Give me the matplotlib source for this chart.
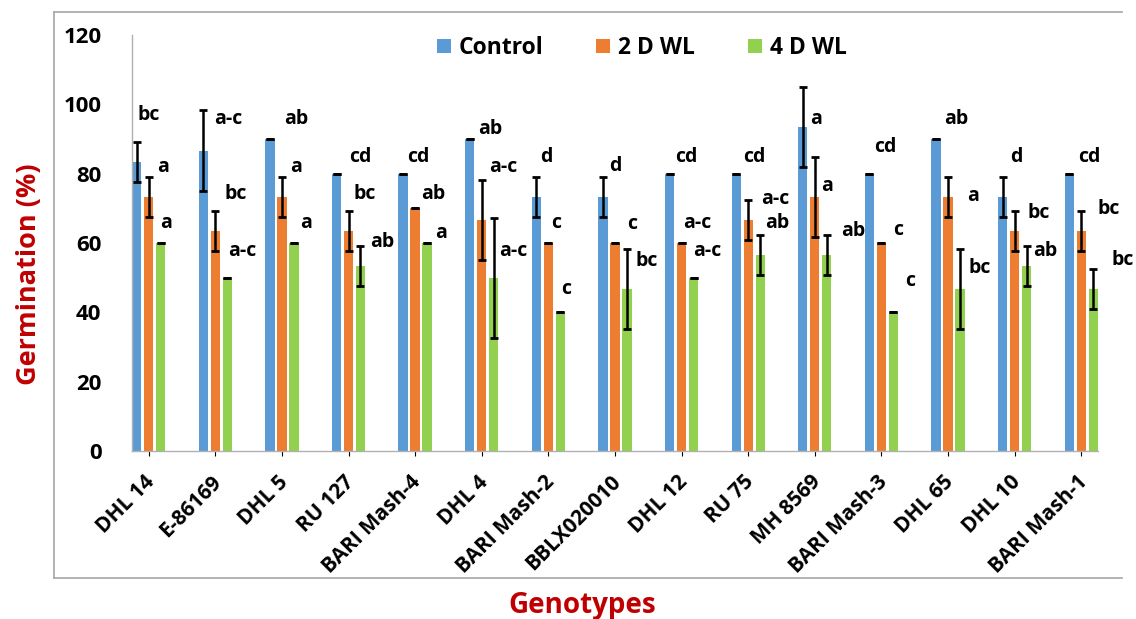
import matplotlib
matplotlib.use("Agg")

import matplotlib.pyplot as plt
import numpy as np
from matplotlib.lines import Line2D

plt.rcParams["font.family"] = ["Open Sans", "DejaVu Sans"]

# data (germination %, mean and SE per genotype)
genotypes = ["DHL 14", "E-86169", "DHL 5", "RU 127", "BARI Mash-4", "DHL 4",
             "BARI Mash-2", "BBLX020010", "DHL 12", "RU 75", "MH 8569",
             "BARI Mash-3", "DHL 65", "DHL 10", "BARI Mash-1"]
series = ["Control", "2 D WL", "4 D WL"]

control = [83.33, 86.67, 90, 80, 80, 90, 73.33, 73.33, 80, 80, 93.33, 80, 90, 73.33, 80]
wl2 = [73.33, 63.33, 73.33, 63.33, 70, 66.67, 60, 60, 60, 66.67, 73.33, 60, 73.33, 63.33, 63.33]
wl4 = [60, 50, 60, 53.33, 60, 50, 40, 46.67, 50, 56.67, 56.67, 40, 46.67, 53.33, 46.67]

se_control = [5.77, 11.55, 0, 0, 0, 0, 5.77, 5.77, 0, 0, 11.55, 0, 0, 5.77, 0]
se_wl2 = [5.77, 5.77, 5.77, 5.77, 0, 11.55, 0, 0, 0, 5.77, 11.55, 0, 5.77, 5.77, 5.77]
se_wl4 = [0, 0, 0, 5.77, 0, 17.32, 0, 11.55, 0, 5.77, 5.77, 0, 11.55, 5.77, 5.77]

let_control = ["bc", "a-c", "ab", "cd", "cd", "ab", "d", "d", "cd", "cd", "a", "cd", "ab", "d", "cd"]
let_wl2 = ["a", "bc", "a", "bc", "ab", "a-c", "c", "c", "a-c", "a-c", "a", "c", "a", "bc", "bc"]
let_wl4 = ["a", "a-c", "a", "ab", "a", "a-c", "c", "bc", "a-c", "ab", "ab", "c", "bc", "ab", "bc"]

# where the significance letters sit (offset from group centre, height)
lab_dx_control = [0.0, 0.19, 0.21, 0.18, 0.05, 0.13, -0.03, 0.0, 0.07, 0.09, 0.02, 0.06, 0.12, 0.03, 0.12]
lab_dx_wl2 = [0.22, 0.31, 0.21, 0.25, 0.27, 0.32, 0.12, 0.26, 0.24, 0.41, 0.19, 0.25, 0.38, 0.36, 0.41]
lab_dx_wl4 = [0.26, 0.40, 0.36, 0.51, 0.39, 0.47, 0.27, 0.47, 0.39, 0.44, 0.58, 0.43, 0.47, 0.46, 0.62]
lab_y_control = [96.9, 95.8, 95.8, 84.8, 84.8, 92.9, 84.8, 82.2, 84.8, 84.8, 95.8, 87.7, 95.8, 84.8, 84.8]
lab_y_wl2 = [81.9, 74.1, 81.9, 74.1, 74.1, 81.9, 65.8, 65.5, 65.8, 72.7, 76.4, 63.7, 73.6, 68.6, 69.8]
lab_y_wl4 = [65.8, 57.7, 65.8, 60.3, 62.9, 57.7, 46.7, 54.8, 57.7, 65.8, 63.5, 49.0, 52.8, 57.7, 55.1]

colors = ["#5B9BD5", "#ED7D31", "#92D050"]
red = "#C00000"

fig = plt.figure(figsize=(11.36, 6.19), dpi=100)
ax = fig.add_axes([0.1162, 0.2714, 0.8503, 0.6721])

x = np.arange(len(genotypes))
step = 0.18
width = 0.14
means = [control, wl2, wl4]
ses = [se_control, se_wl2, se_wl4]
for k, (vals, err, name) in enumerate(zip(means, ses, series)):
    xs = x + (k - 1) * step
    ax.bar(xs, vals, width, color=colors[k], label=name, zorder=2)
    ax.errorbar(xs, vals, yerr=err, fmt="none", ecolor="black", elinewidth=1.8,
                capsize=3, capthick=2, zorder=3)

letters = [let_control, let_wl2, let_wl4]
dxs = [lab_dx_control, lab_dx_wl2, lab_dx_wl4]
lys = [lab_y_control, lab_y_wl2, lab_y_wl4]
for k in range(3):
    for i in range(len(genotypes)):
        ax.text(x[i] + dxs[k][i], lys[k][i], letters[k][i], ha="center", va="center",
                fontsize=14, fontweight="bold", clip_on=False)

ax.set_xlim(-step - width / 2, len(genotypes) - 1 + step + width / 2)
ax.set_ylim(0, 120)
ax.set_yticks(range(0, 121, 20))
ax.tick_params(axis="y", length=0, pad=22, labelsize=16)
ax.set_xticks(x)
ax.set_xticklabels([])
for t in ax.get_yticklabels():
    t.set_fontweight("bold")
# rotated genotype names, right end just below each group
for i, name in enumerate(genotypes):
    ax.annotate(name, xy=(x[i], 0), xycoords=("data", "axes fraction"),
                xytext=(2, -20), textcoords="offset points",
                rotation=45, rotation_mode="anchor", ha="right", va="center",
                fontsize=15, fontweight="bold", annotation_clip=False)
for s in ["top", "right"]:
    ax.spines[s].set_visible(False)
for s in ["left", "bottom"]:
    ax.spines[s].set_color("#B0B0B0")
    ax.spines[s].set_linewidth(1)

leg = ax.legend(loc="upper center", ncol=3, frameon=False, handlelength=0.6, handleheight=0.6,
                handletextpad=0.35, columnspacing=2.3, prop={"size": 16.5, "weight": "bold"})
leg.set_bbox_to_anchor((0.565, 0.975), transform=fig.transFigure)

fig.text(29 / 1136, 1 - 274 / 619, "Germination (%)", rotation=90, ha="center", va="center",
         color=red, fontsize=19.5, fontweight="bold")
fig.text(582 / 1136, 1 - 605 / 619, "Genotypes", ha="center", va="center",
         color=red, fontsize=20, fontweight="bold")

# outer chart frame (left, top, bottom edges)
fx0, fx1, fy0, fy1 = 54 / 1136, 1122 / 1136, 1 - 578 / 619, 1 - 12 / 619
for xs_, ys_ in [([fx0, fx0], [fy0, fy1]), ([fx0, fx1], [fy1, fy1]), ([fx0, fx1], [fy0, fy0])]:
    fig.add_artist(Line2D(xs_, ys_, transform=fig.transFigure, color="#A6A6A6", linewidth=1.2))

fig.savefig("out.png", dpi=100)
